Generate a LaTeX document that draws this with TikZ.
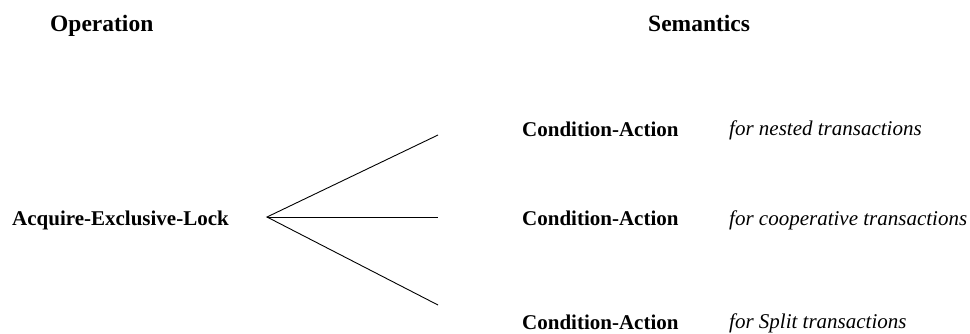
\documentclass[tikz,border=0pt]{standalone}
\usepackage{fontspec}
\setmainfont{Liberation Serif}
\begin{document}
\begin{tikzpicture}[x=1pt,y=-1pt,
  head/.style={anchor=base west,inner sep=0pt,font=\fontsize{23.5}{26}\selectfont\bfseries},
  term/.style={anchor=base west,inner sep=0pt,font=\fontsize{21}{24}\selectfont\bfseries},
  note/.style={anchor=base west,inner sep=0pt,font=\fontsize{21}{24}\selectfont\itshape},
  branch/.style={line width=0.9pt}]
\useasboundingbox (0,0) rectangle (970,333);
% column headings
\node[head] (op)  at (50,31)  {Operation};
\node[head] (sem) at (648,31) {Semantics};
% operation and its branching point
\node[term] (acq) at (12,225) {Acquire-Exclusive-Lock};
\coordinate (fork) at (267,217);
\coordinate (e1) at (438,135);
\coordinate (e2) at (438,217);
\coordinate (e3) at (438,305);
\draw[branch] (e1) -- (fork) -- (e3);
\draw[branch] (fork) -- (e2);
% semantic alternatives
\node[term] (ca1) at (522,136) {Condition-Action};
\node[term] (ca2) at (522,225) {Condition-Action};
\node[term] (ca3) at (522,329) {Condition-Action};
\node[note] (n1) at (729,135) {for nested transactions};
\node[note] (n2) at (729,225) {for cooperative transactions};
\node[note] (n3) at (729,328) {for Split transactions};
\end{tikzpicture}
\end{document}
